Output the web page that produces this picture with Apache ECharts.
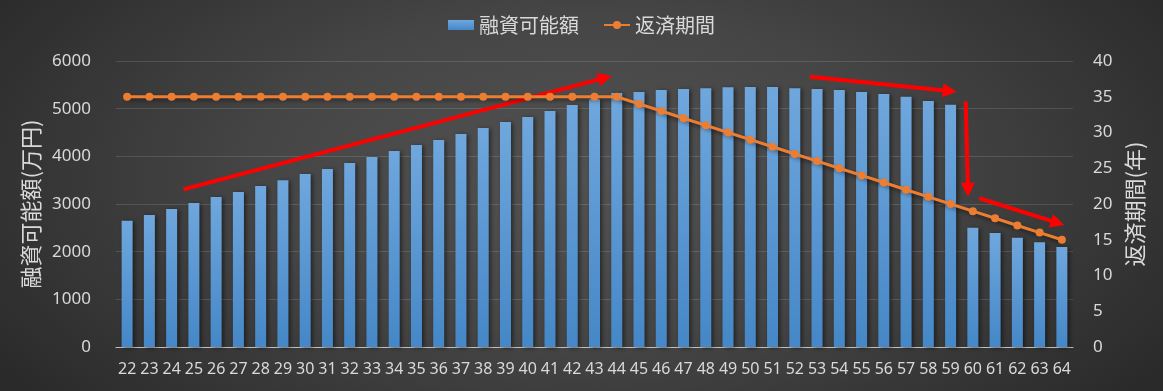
<!DOCTYPE html>
<html>
<head>
<meta charset="utf-8">
<script src="https://cdn.jsdelivr.net/npm/echarts@6/dist/echarts.min.js"></script>
<style>
html,body{margin:0;padding:0;}
#c{width:1163px;height:391px;background:radial-gradient(ellipse 60% 90% at 50% 45%, #525252 0%, #464646 45%, #2a2a2a 100%);}
</style>
</head>
<body>
<div id="c"></div>
<script>
const ages = [22,23,24,25,26,27,28,29,30,31,32,33,34,35,36,37,38,39,40,41,42,43,44,45,46,47,48,49,50,51,52,53,54,55,56,57,58,59,60,61,62,63,64];
const loanAmount = [2650,2770,2895,3020,3145,3250,3380,3500,3630,3735,3860,3985,4110,4240,4345,4470,4595,4720,4825,4950,5075,5200,5330,5350,5390,5410,5430,5450,5455,5455,5430,5410,5390,5350,5310,5250,5160,5080,2500,2390,2290,2200,2100];
const repayYears = [35,35,35,35,35,35,35,35,35,35,35,35,35,35,35,35,35,35,35,35,35,35,35,34,33,32,31,30,29,28,27,26,25,24,23,22,21,20,19,18,17,16,15];
const leftTicks = {min:0, max:6000, interval:1000};
const rightTicks = {min:0, max:40, interval:5};
const seriesNames = ['融資可能額','返済期間'];
const axisNames = ['融資可能額(万円)','返済期間(年)'];
// annotation arrows: [startAge, startAmount] -> [endAge, endAmount]
const arrows = [
  [[24.53,3308],[43.47,5647]],
  [[52.68,5671],[58.96,5371]],
  [[59.68,5147],[59.78,3300]],
  [[60.29,3120],[63.81,2603]]
];

const txt = '#d9d9d9';
const numFont = 'Noto Sans';
const cjkFont = 'Noto Sans CJK JP';
const chart = echarts.init(document.getElementById('c'), null, {renderer:'canvas'});
chart.setOption({
  backgroundColor:'transparent',
  animation:false,
  legend:{
    top:10, left:'center', itemGap:24, itemWidth:26, itemHeight:10,
    textStyle:{color:txt, fontSize:20, fontFamily:cjkFont},
    data:[{name:seriesNames[0], icon:'rect'},{name:seriesNames[1]}]
  },
  grid:{left:116, right:90, top:61, bottom:44},
  xAxis:[{
    type:'category', data:ages,
    axisLine:{lineStyle:{color:'#bfbfbf', width:1}},
    axisTick:{show:false},
    axisLabel:{color:txt, fontSize:16, fontFamily:numFont, margin:14, interval:0}
  },{
    type:'value', min:21.5, max:64.5, show:false
  }],
  yAxis:[{
    type:'value', min:leftTicks.min, max:leftTicks.max, interval:leftTicks.interval,
    name:axisNames[0], nameLocation:'middle', nameGap:70, nameRotate:90,
    nameTextStyle:{color:txt, fontSize:22, fontFamily:cjkFont},
    axisLine:{show:false}, axisTick:{show:false},
    axisLabel:{color:txt, fontSize:17, fontFamily:numFont, margin:25, formatter:v=>String(v)},
    splitLine:{lineStyle:{color:'rgba(255,255,255,0.13)', width:1}}
  },{
    type:'value', min:rightTicks.min, max:rightTicks.max, interval:rightTicks.interval,
    name:axisNames[1], nameLocation:'middle', nameGap:50, nameRotate:90,
    nameTextStyle:{color:txt, fontSize:22, fontFamily:cjkFont},
    axisLine:{show:false}, axisTick:{show:false},
    axisLabel:{color:txt, fontSize:17, fontFamily:numFont, margin:20},
    splitLine:{show:false}
  }],
  series:[{
    name:seriesNames[0], type:'bar', data:loanAmount, barWidth:11,
    itemStyle:{
      color:new echarts.graphic.LinearGradient(0,0,0,1,[{offset:0,color:'#6fa7dd'},{offset:1,color:'#4587c7'}]),
      shadowColor:'rgba(0,0,0,0.5)', shadowBlur:4, shadowOffsetX:2, shadowOffsetY:1
    }
  },{
    name:seriesNames[1], type:'line', yAxisIndex:1, data:repayYears,
    symbol:'circle', symbolSize:8,
    lineStyle:{color:'#ed7d31', width:3, shadowColor:'rgba(0,0,0,0.5)', shadowBlur:4, shadowOffsetY:2},
    itemStyle:{color:'#ed7d31'}
  },{
    type:'lines', coordinateSystem:'cartesian2d', xAxisIndex:1, yAxisIndex:0, silent:true,
    symbol:['none','triangle'], symbolSize:14,
    lineStyle:{color:'#ff0000', width:4, opacity:1, curveness:0},
    data:arrows.map(a=>({coords:a}))
  }]
});
</script>
</body>
</html>
